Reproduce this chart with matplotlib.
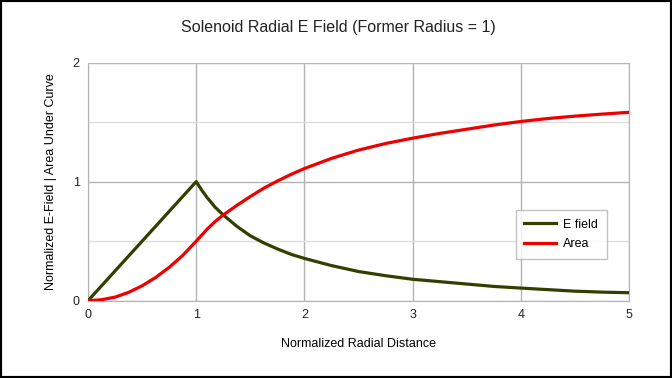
import matplotlib
matplotlib.use('Agg')
import matplotlib.pyplot as plt
from matplotlib.patches import Rectangle

matplotlib.rcParams['font.family'] = ['Liberation Sans', 'DejaVu Sans']

# values
radius = [0, 0.125, 0.25, 0.375, 0.5, 0.625, 0.75, 0.875, 1.0,
          1.05, 1.1, 1.175, 1.25, 1.375, 1.5, 1.625, 1.75, 1.875, 2.0,
          2.25, 2.5, 2.75, 3.0, 3.25, 3.5, 3.75, 4.0, 4.25, 4.5, 4.75, 5.0]
e_field = [0, 0.125, 0.25, 0.375, 0.5, 0.625, 0.75, 0.875, 1.0,
           0.93, 0.867, 0.785, 0.72, 0.625, 0.545, 0.485, 0.435, 0.39, 0.355,
           0.295, 0.245, 0.21, 0.18, 0.16, 0.14, 0.12, 0.106, 0.093, 0.08, 0.072, 0.067]
area = [0, 0.008, 0.03, 0.07, 0.125, 0.195, 0.28, 0.38, 0.50,
        0.55, 0.60, 0.665, 0.72, 0.80, 0.875, 0.945, 1.005, 1.06, 1.11,
        1.195, 1.265, 1.32, 1.365, 1.405, 1.44, 1.475, 1.505, 1.53, 1.55, 1.567, 1.582]

x_ticks = [0, 1, 2, 3, 4, 5]
y_ticks = [0, 1, 2]

fig = plt.figure(figsize=(6.72, 3.78), dpi=100)
ax = fig.add_axes([0.131, 0.2045, 0.805, 0.630])

ax.plot(radius, e_field, color='#333f00', lw=2.3, label='E field', zorder=3,
        solid_joinstyle='round')
ax.plot(radius, area, color='#ee0000', lw=2.3, label='Area', zorder=3,
        solid_joinstyle='round')

ax.set_xlim(0, 5)
ax.set_ylim(0, 2)
ax.set_xticks(x_ticks)
ax.set_yticks(y_ticks)
ax.set_yticks([0.5, 1.5], minor=True)
ax.tick_params(which='both', length=0, labelsize=9, colors='#222222', pad=6)
ax.grid(which='major', color='#b3b3b3', lw=1)
ax.grid(which='minor', axis='y', color='#dddddd', lw=1)
ax.set_axisbelow(True)
for s in ax.spines.values():
    s.set_color('#b3b3b3')

ax.set_xlabel('Normalized Radial Distance', fontsize=9, labelpad=12)
ax.set_ylabel('Normalized E-Field | Area Under Curve', fontsize=9, labelpad=11)

fig.text(0.503, 0.928, 'Solenoid Radial E Field (Former Radius = 1)',
         ha='center', va='center', fontsize=11.5, color='#222222')

leg = ax.legend(loc='lower right', bbox_to_anchor=(0.959, 0.175), borderaxespad=0,
                fontsize=9, frameon=True, fancybox=False, handlelength=2.5,
                handletextpad=0.6, borderpad=0.7, labelspacing=0.6)
leg.get_frame().set_edgecolor('#b3b3b3')
leg.get_frame().set_linewidth(1)

fig.patches.append(Rectangle((0, 0), 1, 1, transform=fig.transFigure,
                             fill=False, edgecolor='black', lw=3))

fig.savefig('out.png', dpi=100)
